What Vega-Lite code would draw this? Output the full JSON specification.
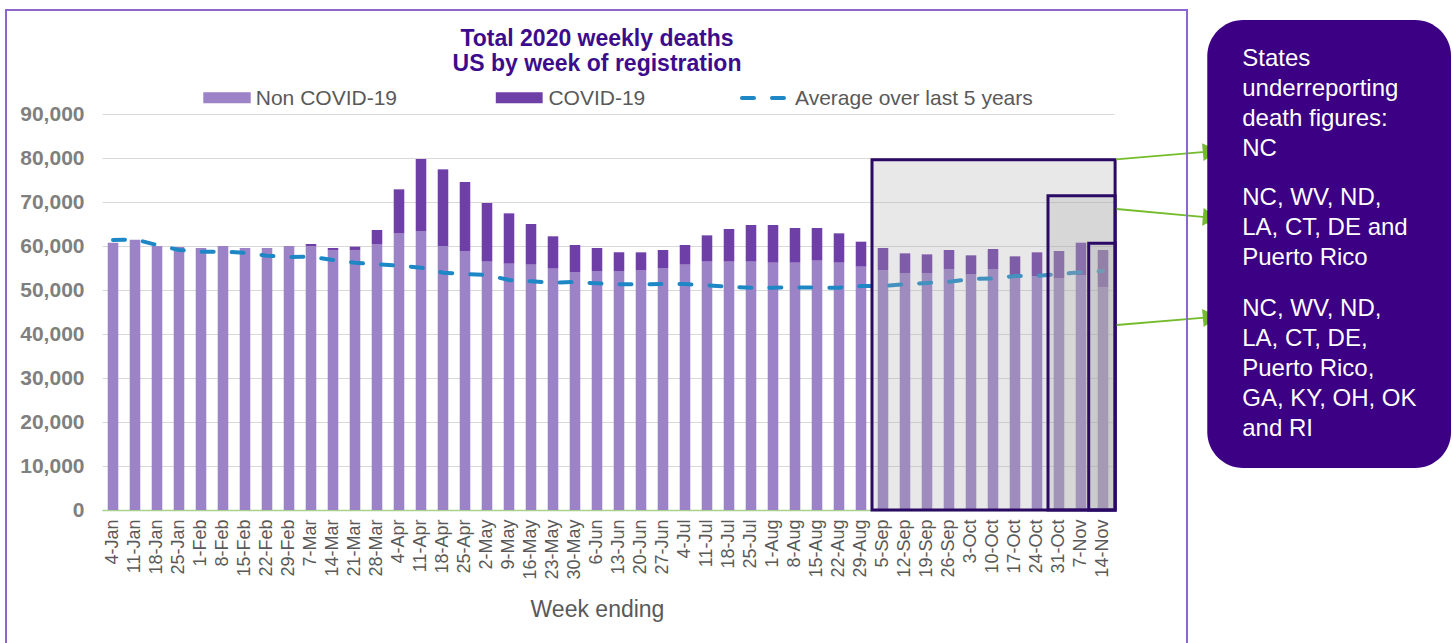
{
  "$schema": "https://vega.github.io/schema/vega-lite/v6.json",
  "width": 1012,
  "height": 396,
  "autosize": {"type": "none"},
  "padding": {"left": 102, "top": 114, "right": 338, "bottom": 133},
  "background": "white",
  "config": {"view": {"stroke": null}, "font": "Liberation Sans"},
  "title": {
    "text": ["Total 2020 weekly deaths", "US by week of registration"],
    "fontSize": 23, "fontWeight": "bold", "color": "#3d0c8c", "font": "Liberation Sans",
    "anchor": "middle", "frame": "group", "offset": -67, "dx": -11, "lineHeight": 25
  },
  "datasets": {
    "weeks": [
      {"week": "4-Jan", "non": 60750, "total": 60750, "avg": 61360},
      {"week": "11-Jan", "non": 61430, "total": 61430, "avg": 61500},
      {"week": "18-Jan", "non": 60000, "total": 60000, "avg": 60230},
      {"week": "25-Jan", "non": 59770, "total": 59770, "avg": 59090},
      {"week": "1-Feb", "non": 59550, "total": 59550, "avg": 58710},
      {"week": "8-Feb", "non": 60000, "total": 60000, "avg": 58700},
      {"week": "15-Feb", "non": 59550, "total": 59550, "avg": 58480},
      {"week": "22-Feb", "non": 59550, "total": 59550, "avg": 57800},
      {"week": "29-Feb", "non": 60000, "total": 60000, "avg": 57500},
      {"week": "7-Mar", "non": 60000, "total": 60450, "avg": 57570},
      {"week": "14-Mar", "non": 59100, "total": 59550, "avg": 56820},
      {"week": "21-Mar", "non": 59100, "total": 59850, "avg": 56210},
      {"week": "28-Mar", "non": 60450, "total": 63640, "avg": 55830},
      {"week": "4-Apr", "non": 62880, "total": 72880, "avg": 55530},
      {"week": "11-Apr", "non": 63410, "total": 79770, "avg": 55080},
      {"week": "18-Apr", "non": 60000, "total": 77420, "avg": 53940},
      {"week": "25-Apr", "non": 58860, "total": 74550, "avg": 53640},
      {"week": "2-May", "non": 56440, "total": 69770, "avg": 53410},
      {"week": "9-May", "non": 55980, "total": 67420, "avg": 52270},
      {"week": "16-May", "non": 55760, "total": 65000, "avg": 51970},
      {"week": "23-May", "non": 54850, "total": 62200, "avg": 51670},
      {"week": "30-May", "non": 54090, "total": 60230, "avg": 51820},
      {"week": "6-Jun", "non": 54320, "total": 59550, "avg": 51510},
      {"week": "13-Jun", "non": 54320, "total": 58560, "avg": 51290},
      {"week": "20-Jun", "non": 54550, "total": 58560, "avg": 51290},
      {"week": "27-Jun", "non": 55000, "total": 59090, "avg": 51360},
      {"week": "4-Jul", "non": 55760, "total": 60230, "avg": 51360},
      {"week": "11-Jul", "non": 56440, "total": 62420, "avg": 51060},
      {"week": "18-Jul", "non": 56440, "total": 63860, "avg": 50760},
      {"week": "25-Jul", "non": 56440, "total": 64770, "avg": 50530},
      {"week": "1-Aug", "non": 56210, "total": 64770, "avg": 50530},
      {"week": "8-Aug", "non": 56210, "total": 64090, "avg": 50610},
      {"week": "15-Aug", "non": 56670, "total": 64090, "avg": 50530},
      {"week": "22-Aug", "non": 56210, "total": 62880, "avg": 50530},
      {"week": "29-Aug", "non": 55300, "total": 60980, "avg": 50900},
      {"week": "5-Sep", "non": 54550, "total": 59550, "avg": 50910},
      {"week": "12-Sep", "non": 53860, "total": 58330, "avg": 51290},
      {"week": "19-Sep", "non": 53860, "total": 58100, "avg": 51590},
      {"week": "26-Sep", "non": 54770, "total": 59090, "avg": 51890},
      {"week": "3-Oct", "non": 53640, "total": 57880, "avg": 52500},
      {"week": "10-Oct", "non": 54770, "total": 59320, "avg": 52650},
      {"week": "17-Oct", "non": 52950, "total": 57650, "avg": 53180},
      {"week": "24-Oct", "non": 53180, "total": 58560, "avg": 53180},
      {"week": "31-Oct", "non": 52650, "total": 58860, "avg": 53640},
      {"week": "7-Nov", "non": 53410, "total": 60750, "avg": 54020},
      {"week": "14-Nov", "non": 50680, "total": 59090, "avg": 54300}
    ],
    "boxes": [
      {"x1": 35, "x2": 46.05, "y1": 0, "y2": 79600},
      {"x1": 43, "x2": 46.05, "y1": 0, "y2": 71430},
      {"x1": 44.85, "x2": 46.05, "y1": 0, "y2": 60600}
    ],
    "arrows": [
      {"arrow": 1, "x1": 46.09, "y1": 79705, "x2": 50.14, "y2": 81409},
      {"arrow": 2, "x1": 46.12, "y1": 68409, "x2": 50.14, "y2": 66568},
      {"arrow": 3, "x1": 46.12, "y1": 42045, "x2": 50.14, "y2": 43705}
    ],
    "heads": [
      {"arrow": 1, "x": 50.39, "y": 81500},
      {"arrow": 2, "x": 50.39, "y": 66455},
      {"arrow": 3, "x": 50.39, "y": 43795}
    ],
    "panel": [{"x1": 50.24, "x2": 61.32, "y1": 9545, "y2": 111364}],
    "notes": [
      {"x": 51.83, "y": 100977, "note": "States\nunderreporting\ndeath figures:\nNC"},
      {"x": 51.83, "y": 69386, "note": "NC, WV, ND,\nLA, CT, DE and\nPuerto Rico"},
      {"x": 51.83, "y": 44159, "note": "NC, WV, ND,\nLA, CT, DE,\nPuerto Rico,\nGA, KY, OH, OK\nand RI"}
    ],
    "swatches": [
      {"series": "Non COVID-19", "x1": 4.605, "x2": 6.76, "y1": 92432, "y2": 94932},
      {"series": "COVID-19", "x1": 17.9, "x2": 20.03, "y1": 92432, "y2": 94932}
    ],
    "legendDash": [{"x1": 29.09, "x2": 31.27, "y": 93636}],
    "legendText": [
      {"x": 6.99, "y": 92045, "label": "Non COVID-19"},
      {"x": 20.29, "y": 92045, "label": "COVID-19"},
      {"x": 31.5, "y": 92045, "label": "Average over last 5 years"}
    ],
    "frame": [{"x1": -4.364, "x2": 49.318, "y1": -40000, "y2": 113636}]
  },
  "resolve": {"scale": {"x": "independent", "y": "independent"}},
  "layer": [
    {
      "data": {"name": "weeks"},
      "layer": [
        {
          "mark": {"type": "bar", "color": "#9c82c6", "width": {"band": 0.48}},
          "encoding": {
            "x": {
              "field": "week", "type": "nominal", "sort": null, "title": "Week ending",
              "scale": {"paddingInner": 0, "paddingOuter": 0},
              "axis": {
                "labelAngle": -90, "labelFontSize": 18, "labelColor": "#595959", "labelFont": "Liberation Sans",
                "labelPadding": 9, "ticks": false, "grid": false,
                "domainColor": "#a9d18e", "domainWidth": 1.5,
                "titleFontSize": 23, "titleFontWeight": "normal", "titleColor": "#595959", "titleFont": "Liberation Sans",
                "titleX": 495, "titleY": 106, "titleBaseline": "alphabetic"
              }
            },
            "y": {
              "field": "non", "type": "quantitative", "title": null,
              "scale": {"domain": [0, 90000], "nice": false},
              "axis": {
                "values": [0, 10000, 20000, 30000, 40000, 50000, 60000, 70000, 80000, 90000],
                "format": ",d", "labelFontSize": 21, "labelFontWeight": "bold", "labelColor": "#7f7f7f",
                "labelFont": "Liberation Sans", "labelPadding": 18, "ticks": false, "domain": false,
                "grid": true, "gridColor": "#d9d9d9", "gridWidth": 1
              }
            }
          }
        },
        {
          "mark": {"type": "bar", "color": "#6f3fa8", "width": {"band": 0.48}},
          "encoding": {
            "x": {"field": "week", "type": "nominal", "sort": null, "title": "Week ending"},
            "y": {"field": "non", "type": "quantitative", "title": null, "scale": {"domain": [0, 90000], "nice": false}},
            "y2": {"field": "total"}
          }
        },
        {
          "mark": {"type": "line", "color": "#1e88c6", "strokeWidth": 4, "strokeDash": [12, 18], "strokeCap": "round"},
          "encoding": {
            "x": {"field": "week", "type": "nominal", "sort": null, "title": "Week ending"},
            "y": {"field": "avg", "type": "quantitative", "title": null, "scale": {"domain": [0, 90000], "nice": false}}
          }
        }
      ]
    },
    {
      "layer": [
        {
          "data": {"name": "boxes"},
          "mark": {"type": "rect", "fill": "#aaaaaa", "fillOpacity": 0.27, "stroke": "#2b0a66", "strokeWidth": 3, "clip": false},
          "encoding": {
            "x": {"field": "x1", "type": "quantitative", "scale": {"domain": [0, 46], "nice": false, "zero": false}, "axis": null},
            "x2": {"field": "x2"},
            "y": {"field": "y1", "type": "quantitative", "scale": {"domain": [0, 90000], "nice": false}, "axis": null},
            "y2": {"field": "y2"}
          }
        },
        {
          "data": {"name": "arrows"},
          "mark": {"type": "rule", "color": "#74bc2c", "strokeWidth": 1.8, "clip": false},
          "encoding": {
            "x": {"field": "x1", "type": "quantitative", "scale": {"domain": [0, 46], "nice": false, "zero": false}, "axis": null},
            "x2": {"field": "x2"},
            "y": {"field": "y1", "type": "quantitative", "scale": {"domain": [0, 90000], "nice": false}, "axis": null},
            "y2": {"field": "y2"}
          }
        },
        {
          "data": {"name": "heads"},
          "transform": [{"filter": "datum.arrow != 2"}],
          "mark": {"type": "point", "shape": "triangle-right", "filled": true, "color": "#74bc2c", "size": 320, "angle": -5, "opacity": 1, "clip": false},
          "encoding": {
            "x": {"field": "x", "type": "quantitative", "scale": {"domain": [0, 46], "nice": false, "zero": false}, "axis": null},
            "y": {"field": "y", "type": "quantitative", "scale": {"domain": [0, 90000], "nice": false}, "axis": null}
          }
        },
        {
          "data": {"name": "heads"},
          "transform": [{"filter": "datum.arrow == 2"}],
          "mark": {"type": "point", "shape": "triangle-right", "filled": true, "color": "#74bc2c", "size": 320, "angle": 5, "opacity": 1, "clip": false},
          "encoding": {
            "x": {"field": "x", "type": "quantitative", "scale": {"domain": [0, 46], "nice": false, "zero": false}, "axis": null},
            "y": {"field": "y", "type": "quantitative", "scale": {"domain": [0, 90000], "nice": false}, "axis": null}
          }
        },
        {
          "data": {"name": "panel"},
          "mark": {"type": "rect", "fill": "#3b0083", "cornerRadius": 36, "clip": false},
          "encoding": {
            "x": {"field": "x1", "type": "quantitative", "scale": {"domain": [0, 46], "nice": false, "zero": false}, "axis": null},
            "x2": {"field": "x2"},
            "y": {"field": "y1", "type": "quantitative", "scale": {"domain": [0, 90000], "nice": false}, "axis": null},
            "y2": {"field": "y2"}
          }
        },
        {
          "data": {"name": "notes"},
          "mark": {"type": "text", "align": "left", "baseline": "alphabetic", "fontSize": 24, "color": "white", "font": "Liberation Sans", "lineBreak": "\n", "lineHeight": 30, "clip": false},
          "encoding": {
            "x": {"field": "x", "type": "quantitative", "scale": {"domain": [0, 46], "nice": false, "zero": false}, "axis": null},
            "y": {"field": "y", "type": "quantitative", "scale": {"domain": [0, 90000], "nice": false}, "axis": null},
            "text": {"field": "note"}
          }
        },
        {
          "data": {"name": "swatches"},
          "mark": {"type": "rect", "clip": false},
          "encoding": {
            "x": {"field": "x1", "type": "quantitative", "scale": {"domain": [0, 46], "nice": false, "zero": false}, "axis": null},
            "x2": {"field": "x2"},
            "y": {"field": "y1", "type": "quantitative", "scale": {"domain": [0, 90000], "nice": false}, "axis": null},
            "y2": {"field": "y2"},
            "color": {"field": "series", "type": "nominal", "scale": {"domain": ["Non COVID-19", "COVID-19"], "range": ["#9c82c6", "#6f3fa8"]}, "legend": null}
          }
        },
        {
          "data": {"name": "legendDash"},
          "mark": {"type": "rule", "color": "#1e88c6", "strokeWidth": 4, "strokeDash": [12, 18], "strokeCap": "round", "clip": false},
          "encoding": {
            "x": {"field": "x1", "type": "quantitative", "scale": {"domain": [0, 46], "nice": false, "zero": false}, "axis": null},
            "x2": {"field": "x2"},
            "y": {"field": "y", "type": "quantitative", "scale": {"domain": [0, 90000], "nice": false}, "axis": null}
          }
        },
        {
          "data": {"name": "legendText"},
          "mark": {"type": "text", "align": "left", "baseline": "alphabetic", "fontSize": 21, "color": "#595959", "font": "Liberation Sans", "clip": false},
          "encoding": {
            "x": {"field": "x", "type": "quantitative", "scale": {"domain": [0, 46], "nice": false, "zero": false}, "axis": null},
            "y": {"field": "y", "type": "quantitative", "scale": {"domain": [0, 90000], "nice": false}, "axis": null},
            "text": {"field": "label"}
          }
        },
        {
          "data": {"name": "frame"},
          "mark": {"type": "rect", "filled": false, "stroke": "#8b66cc", "strokeWidth": 2, "clip": false},
          "encoding": {
            "x": {"field": "x1", "type": "quantitative", "scale": {"domain": [0, 46], "nice": false, "zero": false}, "axis": null},
            "x2": {"field": "x2"},
            "y": {"field": "y1", "type": "quantitative", "scale": {"domain": [0, 90000], "nice": false}, "axis": null},
            "y2": {"field": "y2"}
          }
        }
      ]
    }
  ]
}
